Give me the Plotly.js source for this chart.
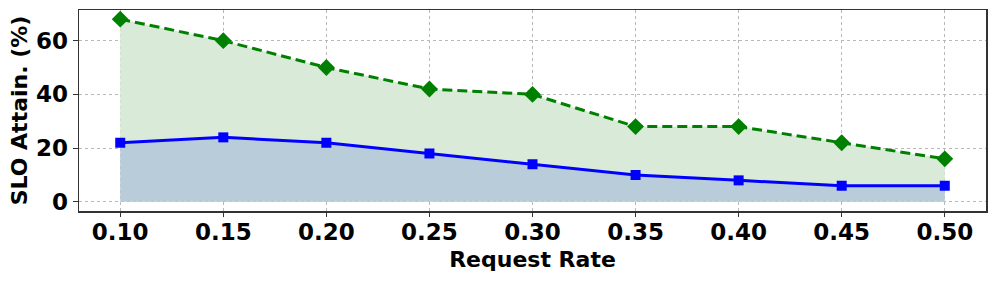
<!DOCTYPE html>
<html>
<head>
<meta charset="utf-8">
<script src="https://cdn.plot.ly/plotly-3.0.1.min.js"></script>
<style>body{margin:0;padding:0;background:#fff;}#chart{width:996px;height:282px;}</style>
</head>
<body>
<div id="chart"></div>
<script>
const requestRates = [0.10, 0.15, 0.20, 0.25, 0.30, 0.35, 0.40, 0.45, 0.50];
const greenSeries = [68, 60, 50, 42, 40, 28, 28, 22, 16];
const blueSeries = [22, 24, 22, 18, 14, 10, 8, 6, 6];
const xTickLabels = ['0.10','0.15','0.20','0.25','0.30','0.35','0.40','0.45','0.50'];
const yTickVals = [0, 20, 40, 60];

const font = 'DejaVu Sans, sans-serif';
const xRange = [0.08, 0.52];
const yRange = [-3.4, 71.4];
const traces = [
  {x: requestRates, y: blueSeries, type: 'scatter', mode: 'lines', fill: 'tozeroy',
   fillcolor: '#b8ccda', line: {width: 0}, hoverinfo: 'skip', showlegend: false},
  {x: requestRates, y: greenSeries, type: 'scatter', mode: 'lines', fill: 'tonexty',
   fillcolor: '#d9ebd8', line: {width: 0}, hoverinfo: 'skip', showlegend: false},
  {x: requestRates, y: greenSeries, type: 'scatter', mode: 'lines+markers',
   line: {color: 'green', width: 3, dash: '10px,5px'},
   marker: {symbol: 'diamond', size: 13, color: 'green'}, showlegend: false},
  {x: requestRates, y: blueSeries, type: 'scatter', mode: 'lines+markers',
   line: {color: 'blue', width: 3},
   marker: {symbol: 'square', size: 10, color: 'blue'}, showlegend: false},
  {x: requestRates, y: blueSeries, xaxis: 'x2', yaxis: 'y2', type: 'scatter', mode: 'none',
   hoverinfo: 'skip', showlegend: false}
];

const layout = {
  width: 996, height: 282,
  margin: {l: 79, r: 10, t: 10, b: 71},
  paper_bgcolor: '#fff', plot_bgcolor: '#fff',
  font: {family: font, color: '#000'},
  xaxis: {
    range: xRange, tickvals: requestRates, ticktext: xTickLabels,
    tickfont: {family: font, size: 23, weight: 'bold'},
    ticks: '',
    showgrid: true, gridcolor: '#b8b8b8', griddash: 'dot', gridwidth: 1,
    showline: true, linecolor: '#333', linewidth: 1.5, mirror: true,
    zeroline: false,
    title: {text: '<b>Request Rate</b>', font: {family: font, size: 22}, standoff: 7}
  },
  yaxis: {
    range: yRange, tickvals: yTickVals,
    tickfont: {family: font, size: 23, weight: 'bold'},
    ticks: 'outside', ticklen: 5, tickwidth: 1.2, tickcolor: '#333',
    showgrid: true, gridcolor: '#b8b8b8', griddash: 'dot', gridwidth: 1,
    showline: true, linecolor: '#333', linewidth: 1.5, mirror: true,
    zeroline: false,
    title: {text: '<b>SLO Attain. (%)</b>', font: {family: font, size: 22}, standoff: 2}
  },
  xaxis2: {
    overlaying: 'x', anchor: 'y2', side: 'bottom', range: xRange, tickvals: requestRates,
    showticklabels: false, ticks: 'outside', ticklen: 5, tickwidth: 1.2, tickcolor: '#333',
    showgrid: false, zeroline: false, showline: false
  },
  yaxis2: {
    overlaying: 'y', anchor: 'x2', range: yRange, showticklabels: false, ticks: '',
    showgrid: false, zeroline: false, showline: false
  }
};
Plotly.newPlot('chart', traces, layout, {staticPlot: true, displayModeBar: false});
</script>
</body>
</html>
